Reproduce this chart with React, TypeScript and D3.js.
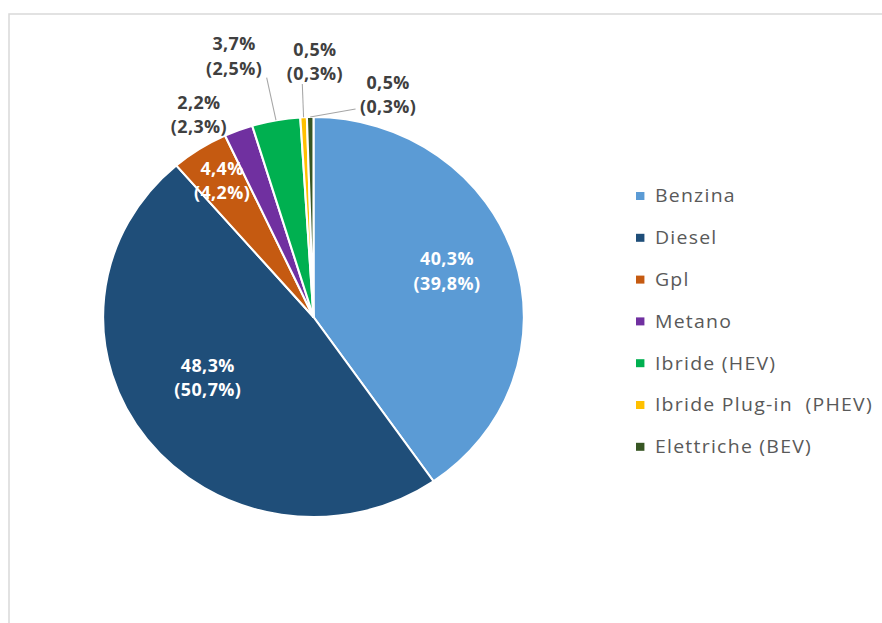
import React from 'react';
import * as d3 from 'd3';

// fuel types, share this year and share previous year (in brackets)
const categories = ['Benzina', 'Diesel', 'Gpl', 'Metano', 'Ibride (HEV)', 'Ibride Plug-in  (PHEV)', 'Elettriche (BEV)'];
const shares = [40.3, 48.3, 4.4, 2.2, 3.7, 0.5, 0.5];
const sharesPrev = [39.8, 50.7, 4.2, 2.3, 2.5, 0.3, 0.3];
const colors = ['#5B9BD5', '#1F4E79', '#C55A11', '#7030A0', '#00B050', '#FFC000', '#375623'];

// label placement: angle (deg, clockwise from top), radius factor, inside?, leader end offset
const labelAngle = [69, 240, 328, 332, 344, 0.3, 17.5];
const labelRadius = [0.68, 0.58, 0.82, 1.16, 1.37, 1.29, 1.18];
const labelInside = [true, true, true, false, false, false, false];
const leaderEnd: ([number, number] | null)[] = [null, null, null, null, [31, 24], [-12, 25], [-31, 17]];

const fmt = (v: number) => v.toFixed(1).replace('.', ',') + '%';

export default function App() {
  const width = 882, height = 623;
  const sx = 1.052; // the reference is slightly stretched horizontally
  const cx = 313.5 / sx, cy = 317, r = 200;

  const pie = d3.pie<number>().sort(null).value(d => d);
  const arcs = pie(shares);
  const arc = d3.arc<d3.PieArcDatum<number>>().innerRadius(0).outerRadius(r);

  const polar = (deg: number, rad: number): [number, number] => {
    const a = (deg * Math.PI) / 180;
    return [Math.sin(a) * rad, -Math.cos(a) * rad];
  };

  const fontFamily = "'Open Sans', Calibri, sans-serif";

  return (
    <svg width={width} height={height} style={{ position: 'absolute', left: 0, top: 0, background: '#fff' }}>
      <rect x={9} y={14} width={width} height={height} fill="#fff" stroke="#d9d9d9" strokeWidth={1.5} />
      <g transform={`scale(${sx},1)`}>
        <g transform={`translate(${cx},${cy})`}>
          {arcs.map((d, i) => (
            <path key={i} d={arc(d) || ''} fill={colors[i]} stroke="#fff" strokeWidth={2} strokeLinejoin="round" />
          ))}
          {arcs.map((d, i) => {
            const end = leaderEnd[i];
            if (!end) return null;
            const mid = ((d.startAngle + d.endAngle) / 2) * 180 / Math.PI;
            const [x0, y0] = polar(mid, r);
            const [lx, ly] = polar(labelAngle[i], r * labelRadius[i]);
            return (
              <line key={'l' + i} x1={x0} y1={y0} x2={lx + end[0]} y2={ly + end[1]}
                stroke="#a6a6a6" strokeWidth={1} />
            );
          })}
          {arcs.map((d, i) => {
            const [lx, ly] = polar(labelAngle[i], r * labelRadius[i]);
            const fill = labelInside[i] ? '#ffffff' : '#404040';
            return (
              <text key={'t' + i} x={lx} y={ly} textAnchor="middle" fill={fill}
                fontFamily={fontFamily} fontWeight={700} fontSize={17} letterSpacing={0.4}>
                <tspan x={lx} dy="-0.2em">{fmt(shares[i])}</tspan>
                <tspan x={lx} dy="1.45em">({fmt(sharesPrev[i])})</tspan>
              </text>
            );
          })}
        </g>
        <g transform={`translate(${636 / sx},0)`}>
          {categories.map((c, i) => {
            const y = 196 + i * 41.8;
            return (
              <g key={c} transform={`translate(0,${y})`}>
                <rect x={0} y={-4} width={8} height={8} fill={colors[i]} />
                <text x={18} y={0} dy="0.35em" fill="#595959" fontFamily={fontFamily} fontSize={18.5}
                  letterSpacing={1.2} style={{ whiteSpace: 'pre' }}>
                  {c}
                </text>
              </g>
            );
          })}
        </g>
      </g>
    </svg>
  );
}
